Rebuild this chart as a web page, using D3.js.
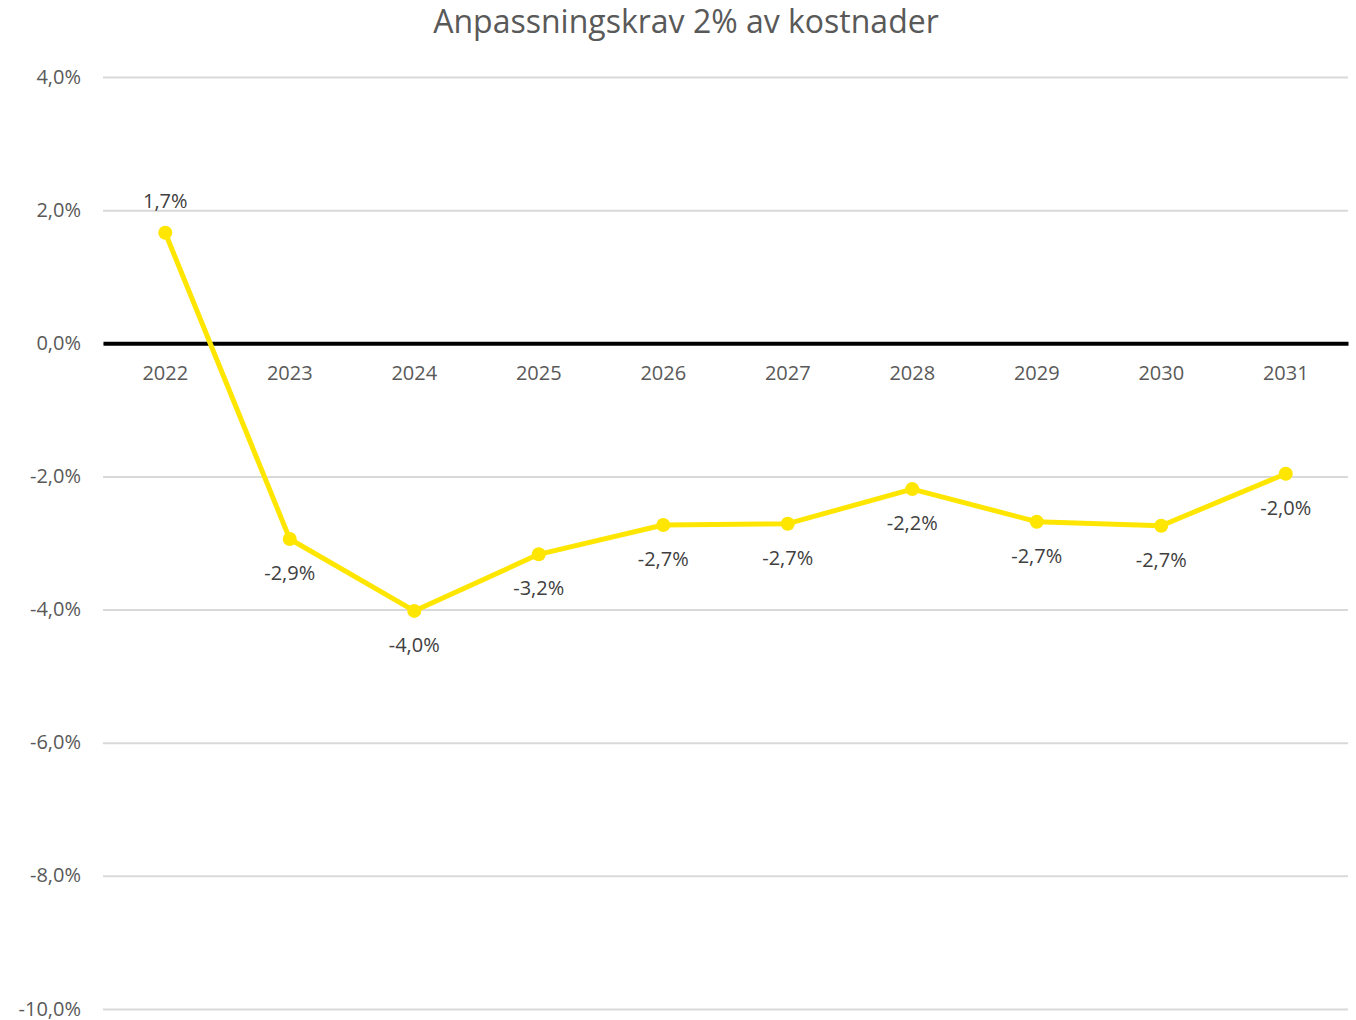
<!DOCTYPE html>
<html>
<head>
<meta charset="utf-8">
<script src="https://cdn.jsdelivr.net/npm/d3@7"></script>
<style>
  body { margin: 0; background: #fff; }
  text { font-family: "Open Sans", "Noto Sans", sans-serif; }
</style>
</head>
<body>
<div id="chart"></div>
<script>
// Chart data
const years = ["2022", "2023", "2024", "2025", "2026", "2027", "2028", "2029", "2030", "2031"];
const values = [1.66, -2.94, -4.02, -3.17, -2.73, -2.71, -2.19, -2.68, -2.74, -1.96];
const yTicks = [4, 2, 0, -2, -4, -6, -8, -10];
const title = "Anpassningskrav 2% av kostnader";

const width = 1356;
const height = 1020;
const margins = {top: 77, right: 8, bottom: 11, left: 103};

const svg = d3.select("#chart")
    .append("svg")
    .attr("width", width)
    .attr("height", height);

const fmt = v => d3.format(".1f")(v).replace("−", "-").replace(".", ",") + "%";

// Scales
const xScale = d3.scaleBand()
    .domain(years)
    .range([margins.left, width - margins.right]);

const yScale = d3.scaleLinear()
    .domain([-10, 4])
    .range([height - margins.bottom, margins.top]);

// Title
svg.append("text")
    .attr("x", 686)
    .attr("y", 33)
    .attr("text-anchor", "middle")
    .attr("fill", "#595959")
    .style("font-size", "32px")
    .text(title);

// Gridlines + y labels
const yAxis = svg.append("g")
    .attr("transform", `translate(${margins.left},0)`)
    .call(d3.axisLeft(yScale)
        .tickValues(yTicks)
        .tickSize(-(width - margins.left - margins.right))
        .tickPadding(22)
        .tickFormat(fmt));
yAxis.select(".domain").remove();
yAxis.selectAll(".tick line")
    .attr("stroke", "#d9d9d9")
    .attr("stroke-width", 2);
yAxis.selectAll(".tick text")
    .attr("fill", "#595959")
    .attr("dy", "0.3em")
    .style("font-size", "20px");

// Zero line and category labels
const xAxis = svg.append("g")
    .attr("transform", `translate(0,${yScale(0)})`)
    .call(d3.axisBottom(xScale).tickSize(0).tickPadding(23));
xAxis.select(".domain")
    .attr("stroke", "#000")
    .attr("stroke-width", 4);
xAxis.selectAll(".tick text")
    .attr("fill", "#595959")
    .style("font-size", "20px");

// Line
const data = years.map((y, i) => ({year: y, value: values[i]}));
const line = d3.line()
    .x(d => xScale(d.year) + xScale.bandwidth() / 2)
    .y(d => yScale(d.value));

svg.append("path")
    .datum(data)
    .attr("fill", "none")
    .attr("stroke", "#ffe600")
    .attr("stroke-width", 5)
    .attr("stroke-linejoin", "round")
    .attr("d", line);

svg.selectAll(".dot")
    .data(data)
    .enter()
    .append("circle")
    .attr("cx", d => xScale(d.year) + xScale.bandwidth() / 2)
    .attr("cy", d => yScale(d.value))
    .attr("r", 7)
    .attr("fill", "#ffe600");

// Data labels: above for the first point, below for the others
svg.selectAll(".lbl")
    .data(data)
    .enter()
    .append("text")
    .attr("x", d => xScale(d.year) + xScale.bandwidth() / 2)
    .attr("y", (d, i) => yScale(d.value) + (i === 0 ? -32 : 34))
    .attr("dy", "0.35em")
    .attr("text-anchor", "middle")
    .attr("fill", "#404040")
    .style("font-size", "20px")
    .text(d => fmt(d.value));
</script>
</body>
</html>
